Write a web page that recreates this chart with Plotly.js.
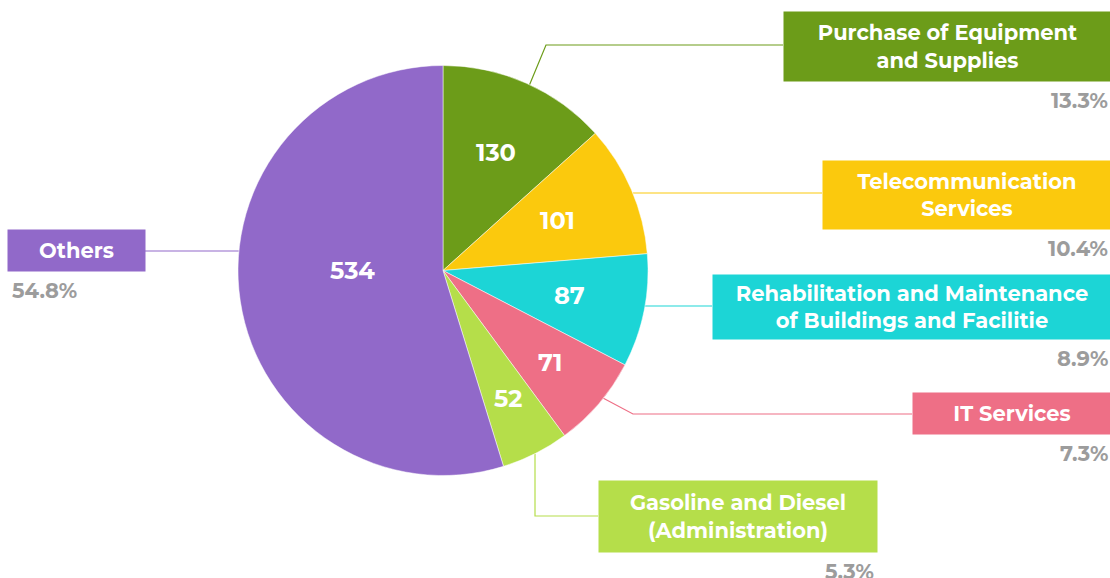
<!DOCTYPE html>
<html><head><meta charset="utf-8">
<script src="https://cdn.plot.ly/plotly-3.0.1.min.js"></script>
<style>html,body{margin:0;padding:0;background:#fff}#chart{width:1110px;height:578px}</style>
</head><body><div id="chart"></div>
<script>
const categories = ["Purchase of Equipment<br>and Supplies","Telecommunication<br>Services","Rehabilitation and Maintenance<br>of Buildings and Facilitie","IT Services","Gasoline and Diesel<br>(Administration)","Others"];
const values = [130, 101, 87, 71, 52, 534];
const colors = ["#6c9c19","#fbc90d","#1cd5d6","#ee6f86","#b5de4a","#9169c9"];

const W = 1110, H = 578;
const cx = 443, cy = 270.5, R = 205;
const px = x => x / W, py = y => 1 - y / H;
const FONT = "Montserrat, 'Open Sans', Lato, sans-serif";
const total = values.reduce((a,b)=>a+b,0);
const pct = values.map(v => (100*v/total).toFixed(1) + "%");

// layout of label boxes (pixels): [left, top, right, bottom]
const boxes = [
  {b:[783,11,1110,80], side:"r", ly:45, knee:546, da:0.017},
  {b:[822,160,1110,228], side:"r", ly:193},
  {b:[712,274,1110,338], side:"r", ly:306},
  {b:[912,392,1110,433], side:"r", ly:414, knee:633, da:-0.035},
  {b:[598,480,876,551], side:"r", ly:516, vknee:535},
  {b:[7,229,144,270], side:"l", ly:251}
];
// radial position of value labels inside slices (fraction of radius) and angle shift (rad)
const valueRadius = [0.63, 0.61, 0.63, 0.69, 0.70, 0.44];
const valueShift = [0, 0, 0, 0, 0, 0.15];

let cum = 0;
const mids = values.map(v => { const m = cum + v/2; cum += v; return m/total*2*Math.PI; });
const onCircle = (a, r) => [cx + r*Math.sin(a), cy - r*Math.cos(a)];

const annotations = [], shapes = [];
boxes.forEach((bx, i) => {
  const [l,t,r,b] = bx.b;
  annotations.push({
    xref:"paper", yref:"paper", x:px(l), y:py(t), xanchor:"left", yanchor:"top",
    width:r-l, height:b-t, bgcolor:colors[i], borderpad:0, showarrow:false, align:"center", valign:"middle",
    text:"<b>"+categories[i]+"</b>", font:{family:FONT, size:21, color:"#ffffff", lineposition:"none"}
  });
  annotations.push({
    xref:"paper", yref:"paper",
    x: bx.side==="r" ? px(r) : px(l+3), y: py(b+6), xanchor: bx.side==="r" ? "right":"left", yanchor:"top",
    showarrow:false, text:"<b>"+pct[i]+"</b>", font:{family:FONT, size:21, color:"#9c9c9c"}
  });
  const [vx, vy] = onCircle(mids[i] + valueShift[i], valueRadius[i]*R);
  annotations.push({
    xref:"paper", yref:"paper", x:px(vx), y:py(vy), xanchor:"center", yanchor:"middle",
    showarrow:false, text:"<b>"+values[i]+"</b>", font:{family:FONT, size:24, color:"#ffffff"}
  });
  let path;
  const ly = bx.ly;
  if (bx.knee !== undefined) {
    const [ex, ey] = onCircle(mids[i] + bx.da, R);
    path = [[l, ly],[bx.knee, ly],[ex, ey]];
  } else if (bx.vknee !== undefined) {
    const dx = bx.vknee - cx;
    const ey = cy + Math.sqrt(R*R - dx*dx);
    path = [[l, ly],[bx.vknee, ly],[bx.vknee, ey]];
  } else {
    const dy = ly - cy;
    const ex = bx.side==="r" ? cx + Math.sqrt(R*R - dy*dy) : cx - Math.sqrt(R*R - dy*dy);
    path = [[bx.side==="r" ? l : r, ly],[ex, ly]];
  }
  const d = "M " + path.map(p => px(p[0]) + "," + py(p[1])).join(" L ");
  shapes.push({type:"path", xref:"paper", yref:"paper", path:d, line:{color:colors[i], width:1.2}, layer:"below"});
});

const trace = {
  type:"pie", values:values, labels:categories, sort:false, direction:"clockwise", rotation:0,
  marker:{colors:colors, line:{color:"#ffffff", width:0.5}},
  textinfo:"none", hoverinfo:"label+value+percent", showlegend:false,
  domain:{x:[px(cx-R), px(cx+R)], y:[py(cy+R), py(cy-R)]}
};
Plotly.newPlot("chart", [trace], {
  width:W, height:H, margin:{l:0,r:0,t:0,b:0}, paper_bgcolor:"#ffffff",
  showlegend:false, annotations:annotations, shapes:shapes
}, {displayModeBar:false, staticPlot:true});
</script></body></html>
